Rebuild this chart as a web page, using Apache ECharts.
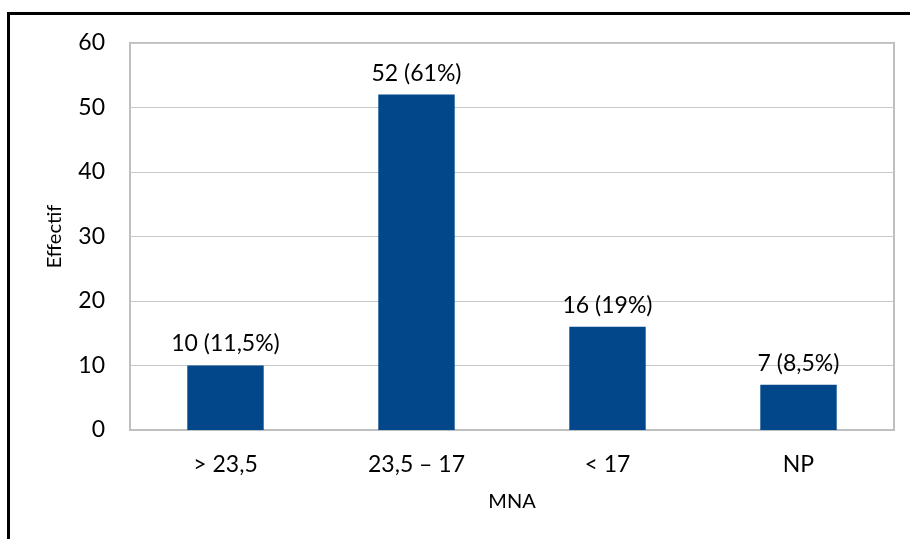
<!DOCTYPE html>
<html><head><meta charset="utf-8">
<script src="https://cdn.jsdelivr.net/npm/echarts@6/dist/echarts.min.js"></script>
<style>html,body{margin:0;padding:0;background:#fff}#c{width:910px;height:539px}</style>
</head><body><div id="c"></div>
<script>
const categories = ['> 23,5', '23,5 – 17', '< 17', 'NP'];
const values = [10, 52, 16, 7];
const barLabels = ['10 (11,5%)', '52 (61%)', '16 (19%)', '7 (8,5%)'];
const yTicks = [0, 10, 20, 30, 40, 50, 60];

const FONT = 'Lato, "Open Sans", sans-serif';
const chart = echarts.init(document.getElementById('c'), null, {renderer: 'canvas'});
chart.setOption({
  animation: false,
  graphic: [{
    type: 'rect', shape: {x: 8.5, y: 13.5, width: 1000, height: 1000},
    style: {fill: 'none', stroke: '#000', lineWidth: 3}, z: 100
  }],
  grid: {left: 130, top: 43, right: 16, bottom: 109, show: true, borderColor: '#bfbfbf', borderWidth: 2, containLabel: false},
  xAxis: {
    type: 'category', data: categories,
    name: 'MNA', nameLocation: 'middle', nameGap: 62,
    nameTextStyle: {fontFamily: FONT, fontSize: 20, color: '#000'},
    axisLine: {show: true, lineStyle: {color: '#bfbfbf', width: 2}},
    axisTick: {show: false},
    axisLabel: {fontFamily: FONT, fontSize: 23, color: '#000', margin: 23}
  },
  yAxis: {
    type: 'value', min: yTicks[0], max: yTicks[yTicks.length - 1], interval: 10,
    name: 'Effectif', nameLocation: 'middle', nameGap: 65, nameRotate: 90,
    nameTextStyle: {fontFamily: FONT, fontSize: 20, color: '#000'},
    axisLine: {show: false}, axisTick: {show: false},
    axisLabel: {fontFamily: FONT, fontSize: 23, color: '#000', margin: 25},
    splitLine: {lineStyle: {color: '#c8c8c8', width: 1}}
  },
  series: [{
    type: 'bar', data: values, barWidth: '40%',
    itemStyle: {color: '#02478a'},
    label: {
      show: true, position: 'top', distance: 10,
      fontFamily: FONT, fontSize: 23, color: '#000',
      formatter: p => barLabels[p.dataIndex]
    }
  }]
});
</script></body></html>
